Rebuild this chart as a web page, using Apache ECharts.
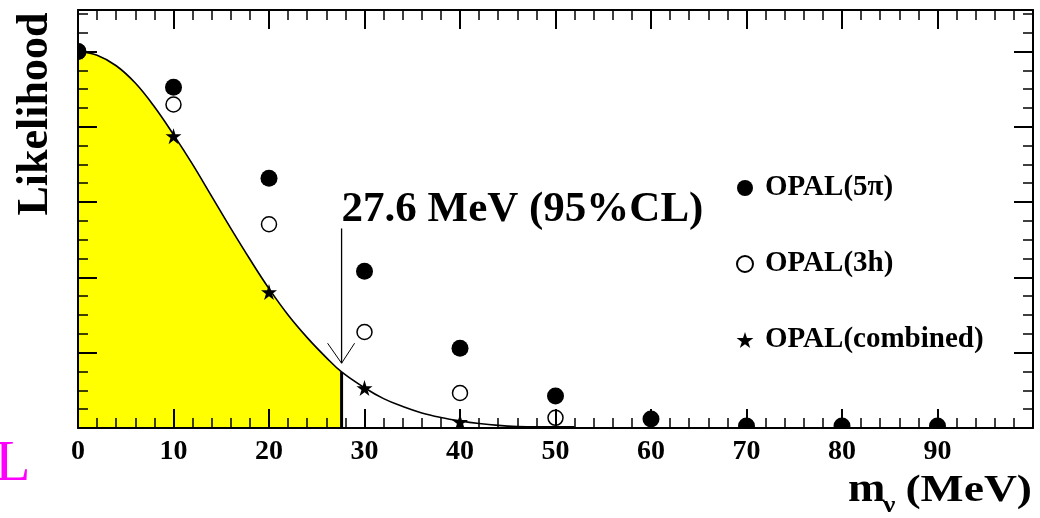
<!DOCTYPE html>
<html>
<head>
<meta charset="utf-8">
<script src="https://cdn.jsdelivr.net/npm/echarts@6/dist/echarts.min.js"></script>
<style>
  html, body { margin: 0; padding: 0; background: #fff; }
  #chart { width: 1040px; height: 518px; }
</style>
</head>
<body>
<div id="chart"></div>
<script>
// Neutrino mass likelihood from OPAL tau decays
const massPoints   = [0, 10, 20, 30, 40, 50, 60, 70, 80, 90];
const opal5pi      = [1.0, 0.905, 0.663, 0.416, 0.212, 0.085, 0.024, 0.005, 0.005, 0.005];
const opal3hMass   = [0, 10, 20, 30, 40, 50];
const opal3h       = [1.0, 0.859, 0.541, 0.255, 0.093, 0.027];
const combinedMass = [0, 10, 20, 30, 40];
const combined     = [1.0, 0.775, 0.361, 0.106, 0.016];

// combined likelihood curve
const curveMass = [0, 2, 4, 6, 8, 10, 12, 14, 16, 18, 20, 22, 24, 26, 27.6, 30, 32, 34, 36, 38, 40, 42, 44, 46, 48, 50, 52];
const curveLik  = [1.0, 0.99, 0.962, 0.916, 0.853, 0.779, 0.70, 0.615, 0.53, 0.448, 0.37, 0.30, 0.24, 0.187, 0.149, 0.107, 0.078, 0.057, 0.040, 0.028, 0.019, 0.012, 0.007, 0.004, 0.003, 0.003, 0.003];

// 95% CL upper limit and its arrow (value at arrow top / tip)
const clLimit  = 27.6;
const arrowTop = 0.53;
const arrowTip = 0.172;

const seriesNames = ['OPAL(5\u03c0)', 'OPAL(3h)', 'OPAL(combined)'];
const xTickLabels = [0, 10, 20, 30, 40, 50, 60, 70, 80, 90];

const SERIF = '"Liberation Serif", "DejaVu Serif", serif';
const STAR = 'path://M50,0 L61.2,34.5 L97.6,34.5 L68.2,55.9 L79.4,90.5 L50,69.1 L20.6,90.5 L31.8,55.9 L2.4,34.5 L38.8,34.5 Z';

const pairs = (xs, ys) => xs.map((x, i) => [x, ys[i]]);
const curveData = pairs(curveMass, curveLik);
const shadeData = curveData.filter(p => p[0] <= clLimit);
const clValue = curveLik[curveMass.indexOf(clLimit)];

function frameAxis(extra) {
  return Object.assign({
    type: 'value',
    z: 10,
    axisLine: { show: true, onZero: false, lineStyle: { color: '#000', width: 2 } },
    axisTick: { show: true, inside: true, length: 19, lineStyle: { color: '#000', width: 2 } },
    minorTick: { show: true, length: 10, lineStyle: { color: '#000', width: 1.5 } },
    splitLine: { show: false },
    minorSplitLine: { show: false },
    axisLabel: { show: false }
  }, extra);
}

const chart = echarts.init(document.getElementById('chart'), null, { renderer: 'canvas' });

chart.setOption({
  animation: false,
  backgroundColor: '#fff',
  grid: { left: 78, right: 7, top: 10, bottom: 90, outerBoundsMode: 'none', containLabel: false },
  xAxis: [
    frameAxis({
      min: 0, max: 100, interval: 10, position: 'bottom',
      minorTick: { show: true, splitNumber: 5, length: 10, lineStyle: { color: '#000', width: 1.5 } },
      axisLabel: {
        show: true, margin: 10, color: '#000',
        fontFamily: SERIF, fontWeight: 'bold', fontSize: 28,
        formatter: v => (xTickLabels.indexOf(v) >= 0 ? String(v) : '')
      }
    }),
    frameAxis({
      min: 0, max: 100, interval: 10, position: 'top',
      minorTick: { show: true, splitNumber: 5, length: 10, lineStyle: { color: '#000', width: 1.5 } }
    })
  ],
  yAxis: [
    frameAxis({
      min: 0, max: 1.11, interval: 0.2, position: 'left',
      minorTick: { show: true, splitNumber: 4, length: 10, lineStyle: { color: '#000', width: 1.5 } }
    }),
    frameAxis({
      min: 0, max: 1.11, interval: 0.2, position: 'right',
      minorTick: { show: true, splitNumber: 4, length: 10, lineStyle: { color: '#000', width: 1.5 } }
    })
  ],
  legend: {
    orient: 'vertical',
    left: 731, top: 168,
    itemWidth: 30, itemHeight: 16, itemGap: 46,
    selectedMode: false,
    textStyle: { fontFamily: SERIF, fontWeight: 'bold', fontSize: 29, color: '#000', lineHeight: 30 },
    data: seriesNames
  },
  series: [
    {
      name: 'shade', type: 'line', data: shadeData,
      smooth: 0.4, symbol: 'none',
      lineStyle: { width: 0 },
      areaStyle: { color: '#ffff00', opacity: 1 },
      z: 1, silent: true
    },
    {
      name: 'curve', type: 'line', data: curveData,
      smooth: 0.4, symbol: 'none',
      lineStyle: { color: '#000', width: 1.6 },
      z: 2, silent: true
    },
    {
      name: 'limit', type: 'line', data: [[clLimit, 0], [clLimit, clValue]],
      symbol: 'none', lineStyle: { color: '#000', width: 3 },
      z: 2, silent: true
    },
    {
      name: 'arrow', type: 'custom', silent: true, z: 3,
      data: [[clLimit, arrowTop, arrowTip]],
      renderItem(params, api) {
        const top = api.coord([api.value(0), api.value(1)]);
        const tip = api.coord([api.value(0), api.value(2)]);
        return {
          type: 'group',
          children: [
            { type: 'line', shape: { x1: top[0], y1: top[1], x2: tip[0], y2: tip[1] },
              style: { stroke: '#000', lineWidth: 1.3 } },
            { type: 'polyline',
              shape: { points: [[tip[0] - 14, tip[1] - 20], [tip[0], tip[1]], [tip[0] + 13, tip[1] - 20]] },
              style: { stroke: '#000', fill: null, lineWidth: 1 } },
            { type: 'text', x: top[0], y: top[1] - 19,
              style: { text: clLimit.toFixed(1) + ' MeV (95%CL)', fill: '#000',
                       font: 'bold 43px ' + SERIF, textAlign: 'left', textVerticalAlign: 'middle' } }
          ]
        };
      }
    },
    {
      name: seriesNames[2], type: 'scatter', data: pairs(combinedMass, combined),
      symbol: STAR, symbolSize: 16, itemStyle: { color: '#000', opacity: 1 }, z: 3
    },
    {
      name: seriesNames[1], type: 'scatter', data: pairs(opal3hMass, opal3h),
      symbol: 'circle', symbolSize: 15,
      itemStyle: { color: '#fff', borderColor: '#000', borderWidth: 1.5, opacity: 1 }, z: 3
    },
    {
      name: seriesNames[0], type: 'scatter', data: pairs(massPoints, opal5pi),
      symbol: 'circle', symbolSize: 17, itemStyle: { color: '#000', opacity: 1 }, z: 3
    }
  ],
  graphic: [
    // white margins that trim markers overhanging the frame
    { type: 'rect', z: 5, silent: true, shape: { x: 0, y: 429, width: 1040, height: 89 }, style: { fill: '#fff' } },
    { type: 'rect', z: 5, silent: true, shape: { x: 0, y: 0, width: 77, height: 430 }, style: { fill: '#fff' } },
    // y-axis title
    { type: 'text', z: 20, x: 36, y: 114, rotation: Math.PI / 2,
      style: { text: 'Likelihood', font: 'bold 44px ' + SERIF, fill: '#000', textAlign: 'center', textVerticalAlign: 'middle' } },
    // x-axis title: m_nu (MeV)
    { type: 'text', z: 20, x: 848, y: 491, scaleX: 1.15,
      style: { text: 'm', font: 'bold 39px ' + SERIF, fill: '#000', textAlign: 'left', textVerticalAlign: 'middle' } },
    { type: 'text', z: 20, x: 883, y: 506, scaleX: 1.15,
      style: { text: '\u03bd', font: 'bold 24px ' + SERIF, fill: '#000', textAlign: 'left', textVerticalAlign: 'middle' } },
    { type: 'text', z: 20, x: 1032, y: 491, scaleX: 1.2,
      style: { text: '(MeV)', font: 'bold 38px ' + SERIF, fill: '#000', textAlign: 'right', textVerticalAlign: 'middle' } },
    // magenta mark at lower left
    { type: 'text', z: 20, x: -5, y: 465,
      style: { text: 'L', font: '58px ' + SERIF, fill: '#ff00ff', textAlign: 'left', textVerticalAlign: 'middle' } }
  ]
});
</script>
</body>
</html>
